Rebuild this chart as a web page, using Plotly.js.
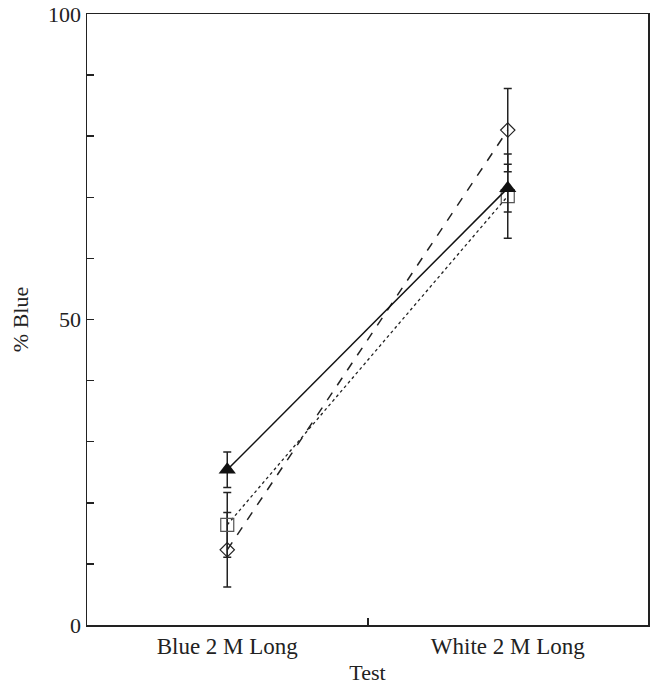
<!DOCTYPE html>
<html>
<head>
<meta charset="utf-8">
<script src="https://cdn.plot.ly/plotly-3.0.1.min.js"></script>
<style>html,body{margin:0;padding:0;background:#fff;}</style>
</head>
<body>
<div id="chart" style="width:653px;height:685px;"></div>
<script>
// Data
var categories = ['Blue 2 M Long', 'White 2 M Long'];
var catPos = [1, 2];
var triangleVals = [25.4, 71.5];
var triangleErr = [2.9, 3.9];
var squareVals = [16.4, 70.2];
var squareErr = [5.3, 6.9];
var diamondVals = [12.3, 81.0];
var diamondErr = [6.1, 6.8];
var yTickVals = [0, 10, 20, 30, 40, 50, 60, 70, 80, 90, 100];
var yTickText = ['0', '', '', '', '', '50', '', '', '', '', '100'];
var midTick = [1.5];

var font = {family: '"Liberation Serif", "DejaVu Serif", serif', size: 22, color: '#222'};
var xfont = {family: '"Liberation Serif", "DejaVu Serif", serif', size: 23, color: '#222'};

function errObj(arr) {
  return {type: 'data', array: arr, visible: true, color: '#222', thickness: 1.5, width: 4};
}

var traces = [
  {
    x: catPos, y: diamondVals, mode: 'lines+markers', type: 'scatter',
    line: {color: '#222', width: 1.5, dash: 'dash'},
    marker: {symbol: 'diamond-open', size: 11, color: '#222', line: {width: 1.2}},
    error_y: errObj(diamondErr), showlegend: false
  },
  {
    x: catPos, y: squareVals, mode: 'lines+markers', type: 'scatter',
    line: {color: '#222', width: 1.3, dash: 'dot'},
    marker: {symbol: 'square-open', size: 13, color: '#555', line: {width: 1.2}},
    error_y: errObj(squareErr), showlegend: false
  },
  {
    x: catPos, y: triangleVals, mode: 'lines+markers', type: 'scatter',
    line: {color: '#111', width: 1.5},
    marker: {symbol: 'triangle-up', size: 15, color: '#111'},
    error_y: errObj(triangleErr), showlegend: false
  },
  {
    x: catPos, y: triangleVals, xaxis: 'x2', mode: 'markers', type: 'scatter',
    marker: {opacity: 0}, hoverinfo: 'skip', showlegend: false
  }
];

var layout = {
  width: 653, height: 685,
  margin: {l: 87, r: 5, t: 14, b: 60},
  paper_bgcolor: '#fff', plot_bgcolor: '#fff',
  font: font,
  xaxis: {
    range: [0.5, 2.5], tickvals: catPos, ticktext: categories,
    ticks: '', showgrid: false, zeroline: false,
    showline: true, linecolor: '#222', linewidth: 1.5, mirror: true,
    tickfont: xfont,
    title: {text: 'Test', font: font, standoff: 8}
  },
  xaxis2: {
    range: [0.5, 2.5], overlaying: 'x', anchor: 'y', side: 'bottom',
    tickvals: midTick, ticktext: [''], ticks: 'inside', ticklen: 7, tickwidth: 2,
    tickcolor: '#222', showgrid: false, zeroline: false, showline: false,
    showticklabels: false
  },
  yaxis: {
    range: [0, 100], tickvals: yTickVals, ticktext: yTickText,
    ticks: 'inside', ticklen: 7, tickwidth: 1.5, tickcolor: '#222',
    showgrid: false, zeroline: false,
    showline: true, linecolor: '#222', linewidth: 1.5, mirror: true,
    tickfont: font,
    title: {text: '% Blue', font: font, standoff: 13}
  }
};

Plotly.newPlot('chart', traces, layout, {displayModeBar: false, staticPlot: true});
</script>
</body>
</html>
